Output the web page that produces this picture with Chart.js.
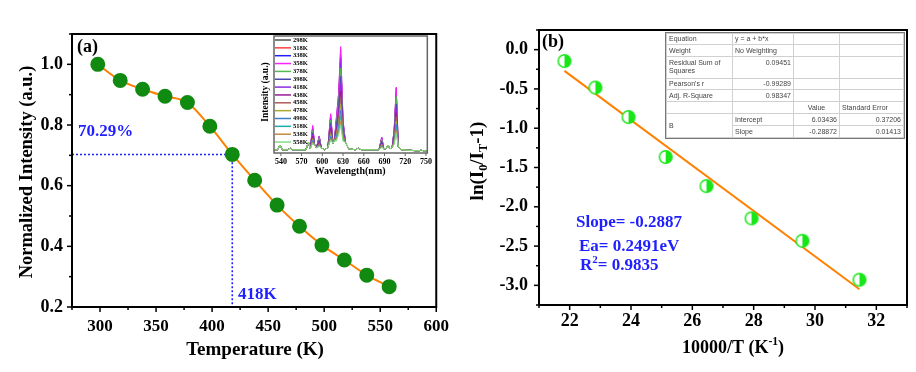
<!DOCTYPE html>
<html>
<head>
<meta charset="utf-8">
<script src="https://cdn.jsdelivr.net/npm/chart.js@4.4.0/dist/chart.umd.min.js"></script>
<style>
  html, body { margin: 0; padding: 0; background: #fff; }
  #wrap { position: relative; width: 916px; height: 372px; overflow: hidden; background: #fff; }
  canvas { position: absolute; }
  #chartA { left: 0; top: 0; }
  #chartB { left: 458px; top: 0; }
  #inset { left: 256px; top: 30px; }
  #fitTable {
    position: absolute; left: 666px; top: 33px; width: 237px;
    table-layout: fixed; border-collapse: collapse; background: #fff;
    font-family: "Liberation Sans", Arial, sans-serif; font-size: 7px; color: #444;
    outline: 1px solid #777; box-shadow: 1px 1px 0 #bbb;
  }
  #fitTable td { border: 1px solid #d0d0d0; padding: 0 2px; line-height: 8px; vertical-align: middle; white-space: normal; }
  #fitTable td.r { text-align: right; }
  #fitTable td.c { text-align: center; }
  #fitTable tr.two td { vertical-align: top; padding-top: 2px; }
</style>
</head>
<body>
<div id="wrap">
  <canvas id="chartA" width="458" height="372"></canvas>
  <canvas id="chartB" width="458" height="372"></canvas>
  <canvas id="inset" width="180" height="150"></canvas>
  <table id="fitTable">
    <colgroup><col style="width:66px"><col style="width:61px"><col style="width:46px"><col style="width:64px"></colgroup>
    <tr style="height:11px"><td>Equation</td><td>y = a + b*x</td><td></td><td></td></tr>
    <tr style="height:12px"><td>Weight</td><td>No Weighting</td><td></td><td></td></tr>
    <tr class="two" style="height:22px"><td>Residual Sum of Squares</td><td class="r">0.09451</td><td></td><td></td></tr>
    <tr style="height:11px"><td>Pearson's r</td><td class="r">-0.99289</td><td></td><td></td></tr>
    <tr style="height:12px"><td>Adj. R-Square</td><td class="r">0.98347</td><td></td><td></td></tr>
    <tr style="height:12px"><td></td><td></td><td class="c">Value</td><td>Standard Error</td></tr>
    <tr style="height:12px"><td rowspan="2">B</td><td>Intercept</td><td class="r">6.03436</td><td class="r">0.37206</td></tr>
    <tr style="height:12px"><td>Slope</td><td class="r">-0.28872</td><td class="r">0.01413</td></tr>
  </table>
</div>

<script>
// ---- panel (a): normalized intensity vs temperature
const tempK = [298, 318, 338, 358, 378, 398, 418, 438, 458, 478, 498, 518, 538, 558];
const normInt = [1.0, 0.947, 0.918, 0.895, 0.874, 0.796, 0.703, 0.618, 0.536, 0.466, 0.404, 0.355, 0.305, 0.267];
// dotted guide to the 70.29% point
const guideT = [275, 418, 418];
const guideI = [0.7029, 0.7029, 0.2];

const aXTicks = [300, 350, 400, 450, 500, 550, 600];
const aXMinor = [275, 325, 375, 425, 475, 525, 575];
const aYTicks = [0.2, 0.4, 0.6, 0.8, 1.0];
const aYMinor = [0.3, 0.5, 0.7, 0.9, 1.1];

// ---- inset: PL spectra
const specLabels = ["298K", "318K", "338K", "358K", "378K", "398K", "418K", "438K", "458K", "478K", "498K", "518K", "538K", "558K"];
const specColors = ["#505050", "#ff4040", "#2020ff", "#ff20ff", "#55b855", "#4848b0", "#8a2be2", "#9a1a9a",
                    "#b05a5a", "#aaaa30", "#3d7fc8", "#20aaa8", "#c88a3a", "#80e080"];
// points shared by all spectra (valleys and weak lines)
const baseWave = [530, 535, 538.5, 542, 550, 553.5, 557, 576, 580, 582.5, 589, 591.5, 598.5, 603, 608, 615.5, 617.5,
                  633.5, 638, 648, 652, 656, 682, 689, 692, 695, 698, 701, 710, 714, 740, 743, 746, 752];
const baseVal = [0.03, 0.03, 0.075, 0.03, 0.03, 0.047, 0.03, 0.03, 0.1, 0.04, 0.07, 0.05, 0.05, 0.03, 0.05, 0.09, 0.12,
                 0.1, 0.04, 0.03, 0.047, 0.03, 0.03, 0.04, 0.04, 0.075, 0.04, 0.05, 0.06, 0.03, 0.02, 0.03, 0.02, 0.02];
// peak wavelengths, and the height read for each temperature
const peakWave = [586, 595.5, 612, 620, 623.5, 626.5, 630, 686, 704, 707];
const spec298 = [0.25, 0.16, 0.36, 0.30, 0.55, 0.975, 0.30, 0.15, 0.22, 0.61];
const spec318 = [0.23, 0.15, 0.33, 0.27, 0.50, 0.88, 0.27, 0.14, 0.20, 0.56];
const spec338 = [0.23, 0.15, 0.33, 0.28, 0.51, 0.90, 0.28, 0.14, 0.21, 0.57];
const spec358 = [0.26, 0.16, 0.37, 0.31, 0.56, 1.0, 0.31, 0.15, 0.22, 0.62];
const spec378 = [0.21, 0.14, 0.31, 0.26, 0.46, 0.80, 0.26, 0.13, 0.19, 0.53];
const spec398 = [0.19, 0.12, 0.28, 0.23, 0.41, 0.72, 0.23, 0.11, 0.17, 0.46];
const spec418 = [0.18, 0.11, 0.25, 0.21, 0.37, 0.65, 0.21, 0.10, 0.15, 0.42];
const spec438 = [0.16, 0.10, 0.23, 0.19, 0.33, 0.58, 0.19, 0.09, 0.14, 0.38];
const spec458 = [0.14, 0.09, 0.20, 0.17, 0.30, 0.52, 0.17, 0.08, 0.12, 0.34];
const spec478 = [0.13, 0.08, 0.18, 0.16, 0.27, 0.46, 0.16, 0.08, 0.11, 0.30];
const spec498 = [0.12, 0.08, 0.16, 0.14, 0.24, 0.40, 0.14, 0.07, 0.10, 0.27];
const spec518 = [0.11, 0.07, 0.15, 0.13, 0.21, 0.35, 0.13, 0.06, 0.09, 0.24];
const spec538 = [0.10, 0.07, 0.13, 0.12, 0.19, 0.30, 0.12, 0.06, 0.09, 0.21];
const spec558 = [0.09, 0.06, 0.12, 0.11, 0.17, 0.26, 0.11, 0.05, 0.08, 0.19];
const insetXTicks = [540, 570, 600, 630, 660, 690, 720, 750];

// ---- panel (b): Arrhenius fit
const invT = [21.83, 22.84, 23.92, 25.13, 26.46, 27.93, 29.59, 31.45];
const lnRatio = [-0.145, -0.482, -0.858, -1.366, -1.737, -2.147, -2.433, -2.928];
const fitX = [21.83, 31.45];
const fitY = [-0.27, -3.05];

const bXTicks = [22, 24, 26, 28, 30, 32];
const bXMinor = [21, 23, 25, 27, 29, 31, 33];
const bYTicks = [0, -0.5, -1, -1.5, -2, -2.5, -3];
const bYMinor = [0.25, -0.25, -0.75, -1.25, -1.75, -2.25, -2.75, -3.25];

const SERIF = '"Liberation Serif", "Times New Roman", serif';
const BLUE = "#1f1fff";

function drawRich(ctx, parts, x, y, size, align, rotate, color) {
    ctx.save();
    ctx.translate(x, y);
    if (rotate) ctx.rotate(rotate);
    ctx.textBaseline = "middle";
    ctx.textAlign = "left";
    ctx.fillStyle = color || "#000";
    const fontOf = p => `bold ${p.sub || p.sup ? size * 0.65 : size}px ${SERIF}`;
    let total = 0;
    parts.forEach(p => { ctx.font = fontOf(p); total += ctx.measureText(p.t).width; });
    let cx = align === "center" ? -total / 2 : 0;
    parts.forEach(p => {
        ctx.font = fontOf(p);
        const dy = p.sub ? size * 0.3 : p.sup ? -size * 0.35 : 0;
        ctx.fillText(p.t, cx, dy);
        cx += ctx.measureText(p.t).width;
    });
    ctx.restore();
}

function makeNotes(items) {
    return {
        id: "notes",
        afterDraw(chart) {
            items.forEach(it => drawRich(chart.ctx, it.parts, it.x, it.y, it.size, it.align, it.rotate, it.color));
        }
    };
}

function makeFrame(cfg) {
    return {
        id: "frame",
        afterDatasetsDraw(chart) {
            const { ctx, chartArea: a } = chart;
            const sx = chart.scales.x, sy = chart.scales.y;
            ctx.save();
            ctx.strokeStyle = cfg.color;
            ctx.lineWidth = cfg.width;
            ctx.strokeRect(a.left, a.top, a.right - a.left, a.bottom - a.top);
            ctx.lineWidth = cfg.tickWidth;
            const tick = (x1, y1, x2, y2) => { ctx.beginPath(); ctx.moveTo(x1, y1); ctx.lineTo(x2, y2); ctx.stroke(); };
            (cfg.xMajor || []).forEach(v => { const p = sx.getPixelForValue(v); tick(p, a.bottom, p, a.bottom + cfg.major); });
            (cfg.xMinor || []).forEach(v => { const p = sx.getPixelForValue(v); tick(p, a.bottom, p, a.bottom + cfg.minor); });
            (cfg.yMajor || []).forEach(v => { const p = sy.getPixelForValue(v); tick(a.left, p, a.left - cfg.major, p); });
            (cfg.yMinor || []).forEach(v => { const p = sy.getPixelForValue(v); tick(a.left, p, a.left - cfg.minor, p); });
            ctx.restore();
        }
    };
}

function tickFont(size) {
    return { family: SERIF, size: size, weight: "bold" };
}

// no chart.js grid: ticks are drawn by the frame plugin
const noGrid = { display: false, drawTicks: false, tickLength: 0 };

// half filled marker for panel (b)
function halfDot(r, color) {
    const c = document.createElement("canvas");
    const s = Math.ceil(r * 2 + 3);
    c.width = s; c.height = s;
    const g = c.getContext("2d");
    const m = s / 2;
    g.fillStyle = "#fff";
    g.beginPath(); g.arc(m, m, r, 0, Math.PI * 2); g.fill();
    g.fillStyle = color;
    g.beginPath(); g.moveTo(m, m); g.arc(m, m, r, -Math.PI / 2, Math.PI / 2); g.closePath(); g.fill();
    g.strokeStyle = color; g.lineWidth = 1.5;
    g.beginPath(); g.arc(m, m, r, 0, Math.PI * 2); g.stroke();
    return c;
}

const baseOptions = {
    responsive: false,
    animation: false,
    events: [],
    plugins: { legend: { display: false }, tooltip: { enabled: false } }
};

// ---------- panel (a)
new Chart(document.getElementById("chartA"), {
    type: "line",
    data: {
        datasets: [
            {
                data: tempK.map((t, i) => ({ x: t, y: normInt[i] })),
                borderColor: "#ff8000",
                borderWidth: 2,
                pointRadius: 6.5,
                pointBackgroundColor: "#108a10",
                pointBorderColor: "#108a10",
                cubicInterpolationMode: "monotone",
                order: 0
            },
            {
                data: guideT.map((t, i) => ({ x: t, y: guideI[i] })),
                borderColor: BLUE,
                borderWidth: 1.6,
                borderDash: [2, 2],
                pointRadius: 0,
                tension: 0,
                order: 1
            }
        ]
    },
    options: {
        ...baseOptions,
        layout: { padding: { left: 0, right: 21, top: 34, bottom: 0 } },
        scales: {
            x: {
                type: "linear", min: 275, max: 600,
                afterFit: s => { s.height = 65; },
                afterBuildTicks: s => { s.ticks = aXTicks.map(v => ({ value: v })); },
                grid: noGrid, border: { display: false },
                ticks: { font: tickFont(17), color: "#000", padding: 9, maxRotation: 0, autoSkip: false }
            },
            y: {
                type: "linear", min: 0.2, max: 1.1,
                afterFit: s => { s.width = 72; },
                afterBuildTicks: s => { s.ticks = aYTicks.map(v => ({ value: v })); },
                grid: noGrid, border: { display: false },
                ticks: { font: tickFont(18), color: "#000", padding: 9, callback: v => v.toFixed(1) }
            }
        }
    },
    plugins: [
        makeFrame({ color: "#000", width: 2, tickWidth: 1.5, major: 5, minor: 3,
                    xMajor: aXTicks, xMinor: aXMinor, yMajor: aYTicks, yMinor: aYMinor }),
        makeNotes([
            { parts: [{ t: "(a)" }], x: 77, y: 47, size: 18, align: "left" },
            { parts: [{ t: "70.29%" }], x: 78, y: 132, size: 17, align: "left", color: BLUE },
            { parts: [{ t: "418K" }], x: 238, y: 295, size: 17, align: "left", color: BLUE },
            { parts: [{ t: "Normalized Intensity (a.u.)" }], x: 27, y: 172, size: 18.5, align: "center", rotate: -Math.PI / 2 },
            { parts: [{ t: "Temperature (K)" }], x: 255, y: 350, size: 19, align: "center" }
        ])
    ]
});

// ---------- inset of panel (a)
const specSets = [spec298, spec318, spec338, spec358, spec378, spec398, spec418,
                  spec438, spec458, spec478, spec498, spec518, spec538, spec558];

const specLegend = {
    id: "specLegend",
    afterDraw(chart) {
        const ctx = chart.ctx;
        ctx.save();
        ctx.font = `bold 6.5px ${SERIF}`;
        ctx.textBaseline = "middle";
        chart.data.datasets.forEach((ds, i) => {
            const y = 10 + i * 7.85;
            ctx.strokeStyle = ds.borderColor;
            ctx.lineWidth = 1.5;
            ctx.beginPath(); ctx.moveTo(19, y); ctx.lineTo(35, y); ctx.stroke();
            ctx.fillStyle = "#000";
            ctx.fillText(ds.label, 37, y);
        });
        ctx.restore();
    }
};

new Chart(document.getElementById("inset"), {
    type: "line",
    data: {
        datasets: specSets.map((vals, k) => ({
            label: specLabels[k],
            data: baseWave.map((w, i) => ({ x: w, y: baseVal[i] }))
                .concat(peakWave.map((w, i) => ({ x: w, y: vals[i] })))
                .sort((p, q) => p.x - q.x),
            borderColor: specColors[k],
            borderWidth: 1,
            pointRadius: 0,
            tension: 0,
            order: -k
        }))
    },
    options: {
        ...baseOptions,
        layout: { padding: { left: 0, right: 7, top: 6, bottom: 0 } },
        scales: {
            x: {
                type: "linear", min: 530, max: 752,
                afterFit: s => { s.height = 27; },
                afterBuildTicks: s => { s.ticks = insetXTicks.map(v => ({ value: v })); },
                grid: noGrid, border: { display: false },
                ticks: { font: tickFont(8), color: "#000", padding: 4, maxRotation: 0, autoSkip: false }
            },
            y: {
                type: "linear", min: 0, max: 1.1,
                afterFit: s => { s.width = 18; },
                grid: noGrid, border: { display: false },
                ticks: { display: false }
            }
        }
    },
    plugins: [
        makeFrame({ color: "#666", width: 1.5, tickWidth: 1, major: 3, minor: 0, xMajor: insetXTicks }),
        specLegend,
        makeNotes([
            { parts: [{ t: "Wavelength(nm)" }], x: 94, y: 141, size: 10, align: "center" },
            { parts: [{ t: "Intensity (a.u.)" }], x: 10, y: 62, size: 9.5, align: "center", rotate: -Math.PI / 2 }
        ])
    ]
});

// ---------- panel (b)
new Chart(document.getElementById("chartB"), {
    type: "line",
    data: {
        datasets: [
            {
                data: invT.map((v, i) => ({ x: v, y: lnRatio[i] })),
                showLine: false,
                pointStyle: halfDot(6.3, "#19e619"),
                pointRadius: 6.5,
                order: 0
            },
            {
                data: fitX.map((v, i) => ({ x: v, y: fitY[i] })),
                borderColor: "#ff8000",
                borderWidth: 2,
                pointRadius: 0,
                order: 1
            }
        ]
    },
    options: {
        ...baseOptions,
        layout: { padding: { left: 0, right: 9, top: 30, bottom: 0 } },
        scales: {
            x: {
                type: "linear", min: 21, max: 33,
                afterFit: s => { s.height = 67; },
                afterBuildTicks: s => { s.ticks = bXTicks.map(v => ({ value: v })); },
                grid: noGrid, border: { display: false },
                ticks: { font: tickFont(18), color: "#000", padding: 6, maxRotation: 0, autoSkip: false }
            },
            y: {
                type: "linear", min: -3.25, max: 0.25,
                afterFit: s => { s.width = 81; },
                afterBuildTicks: s => { s.ticks = bYTicks.map(v => ({ value: v })); },
                grid: noGrid, border: { display: false },
                ticks: { font: tickFont(18), color: "#000", padding: 11, callback: v => v.toFixed(1) }
            }
        }
    },
    plugins: [
        makeFrame({ color: "#000", width: 2, tickWidth: 1.5, major: 5, minor: 3,
                    xMajor: bXTicks, xMinor: bXMinor, yMajor: bYTicks, yMinor: bYMinor }),
        makeNotes([
            { parts: [{ t: "(b)" }], x: 84, y: 42, size: 18, align: "left" },
            { parts: [{ t: "Slope= -0.2887" }], x: 118, y: 223, size: 17, align: "left", color: BLUE },
            { parts: [{ t: "Ea= 0.2491eV" }], x: 121, y: 247, size: 17, align: "left", color: BLUE },
            { parts: [{ t: "R" }, { t: "2", sup: true }, { t: "= 0.9835" }], x: 122, y: 266, size: 17, align: "left", color: BLUE },
            { parts: [{ t: "ln(I" }, { t: "0", sub: true }, { t: "/I" }, { t: "T", sub: true }, { t: "-1)" }],
              x: 20, y: 161, size: 19, align: "center", rotate: -Math.PI / 2 },
            { parts: [{ t: "10000/T (K" }, { t: "-1", sup: true }, { t: ")" }], x: 275, y: 348, size: 18, align: "center" }
        ])
    ]
});
</script>
</body>
</html>
